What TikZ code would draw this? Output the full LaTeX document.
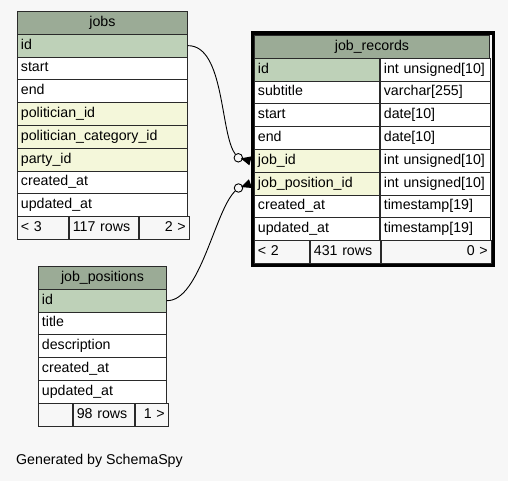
\documentclass[tikz,border=0pt]{standalone}
\usepackage{fontspec}
\setmainfont{Liberation Sans}
\usetikzlibrary{arrows.meta}
\definecolor{bgc}{HTML}{F7F7F7}
\definecolor{headc}{HTML}{9BAB96}
\definecolor{pkc}{HTML}{BED1B8}
\definecolor{fkc}{HTML}{F4F7DA}
\definecolor{linec}{HTML}{2A2A2A}
\begin{document}
\begin{tikzpicture}[x=1pt, y=-1pt,
        cell/.style={draw=linec, line width=0.9pt, anchor=north west, inner xsep=3.5pt, inner ysep=0pt,
            minimum height=22.8pt, text height=10.5pt, text depth=3.5pt, align=left,
            font=\fontsize{14.2}{16}\selectfont},
        head/.style={cell, fill=headc, align=center},
        pk/.style={cell, fill=pkc},
        fk/.style={cell, fill=fkc},
        plain/.style={cell, fill=white},
        foot/.style={cell, fill=bgc},
        odot/.style={circle, draw, fill=bgc, line width=0.9pt, minimum size=8.5pt, inner sep=0pt},
        link/.style={line width=0.9pt},
        crow/.style={line width=0.9pt, -{Triangle[reversed, length=10pt, width=9pt]}}]
        \fill[bgc] (0,0) rectangle (508,481);
        \useasboundingbox (0,0) rectangle (508,481);
        % jobs
        \node[head, text width=163] (jobs) at (17,11) {jobs};
        \foreach \nm/\st/\tx [count=\i] in {id/pk/id, start/plain/start, end/plain/end,
            polid/fk/politician\_id, polcatid/fk/politician\_category\_id, partyid/fk/party\_id,
            created/plain/created\_at, updated/plain/updated\_at}
            \node[\st, text width=163] (jobs-\nm) at (17,11+22.8*\i) {\mbox{\tx}};
        \node[foot, text width=44] (jobs-f1) at (17,216.2) {< 3};
        \node[foot, text width=62] (jobs-f2) at (jobs-f1.north east) {117 rows};
        \node[foot, text width=43, align=right] (jobs-f3) at (jobs-f2.north east) {2 >};
        % job_records
        \node[head, text width=228] (jr) at (254,35) {job\_records};
        \foreach \nm/\st/\tx/\ty [count=\i] in {id/pk/id/int unsigned[10], subtitle/plain/subtitle/varchar[255],
            start/plain/start/date[10], end/plain/end/date[10], jobid/fk/job\_id/int unsigned[10],
            jobposid/fk/job\_position\_id/int unsigned[10], created/plain/created\_at/timestamp[19],
            updated/plain/updated\_at/timestamp[19]}
        {
            \node[\st, text width=118] (jr-\nm) at (254,35+22.8*\i) {\mbox{\tx}};
            \node[plain, text width=103] (jr-\nm-type) at (jr-\nm.north east) {\mbox{\ty}};
        }
        \node[foot, text width=48] (jr-f1) at (254,240.2) {< 2};
        \node[foot, text width=63] (jr-f2) at (jr-f1.north east) {431 rows};
        \node[foot, text width=103, align=right] (jr-f3) at (jr-f2.north east) {0 >};
        \draw[line width=3.5pt] ([shift={(-1.75,-1.75)}]jr.north west) rectangle ([shift={(1.75,1.75)}]jr-f3.south east);
        % job_positions
        \node[head, text width=121] (jpos) at (38,266) {job\_positions};
        \foreach \nm/\st/\tx [count=\i] in {id/pk/id, title/plain/title, descr/plain/description,
            created/plain/created\_at, updated/plain/updated\_at}
            \node[\st, text width=121] (jpos-\nm) at (38,266+22.8*\i) {\mbox{\tx}};
        \node[foot, text width=27] (jpos-f1) at (38,402.8) {};
        \node[foot, text width=54] (jpos-f2) at (jpos-f1.north east) {98 rows};
        \node[foot, text width=26, align=right] (jpos-f3) at (jpos-f2.north east) {1 >};
        % links
        \node[odot] (o-job) at (238.3,157.8) {};
        \node[odot] (o-pos) at (238.5,188) {};
        \draw[link] (jobs-id.east) .. controls (225,45.4) and (220,135) .. (o-job);
        \draw[crow] (o-job) -- ([xshift=-3.5pt]jr-jobid.west);
        \draw[link] (jpos-id.east) .. controls (200,301.4) and (215,210) .. (o-pos);
        \draw[crow] (o-pos) -- ([xshift=-3.5pt]jr-jobposid.west);
        \node[anchor=west, inner sep=0pt, font=\fontsize{14.2}{16}\selectfont] (gen) at (16,461) {Generated by SchemaSpy};
\end{tikzpicture}
\end{document}
